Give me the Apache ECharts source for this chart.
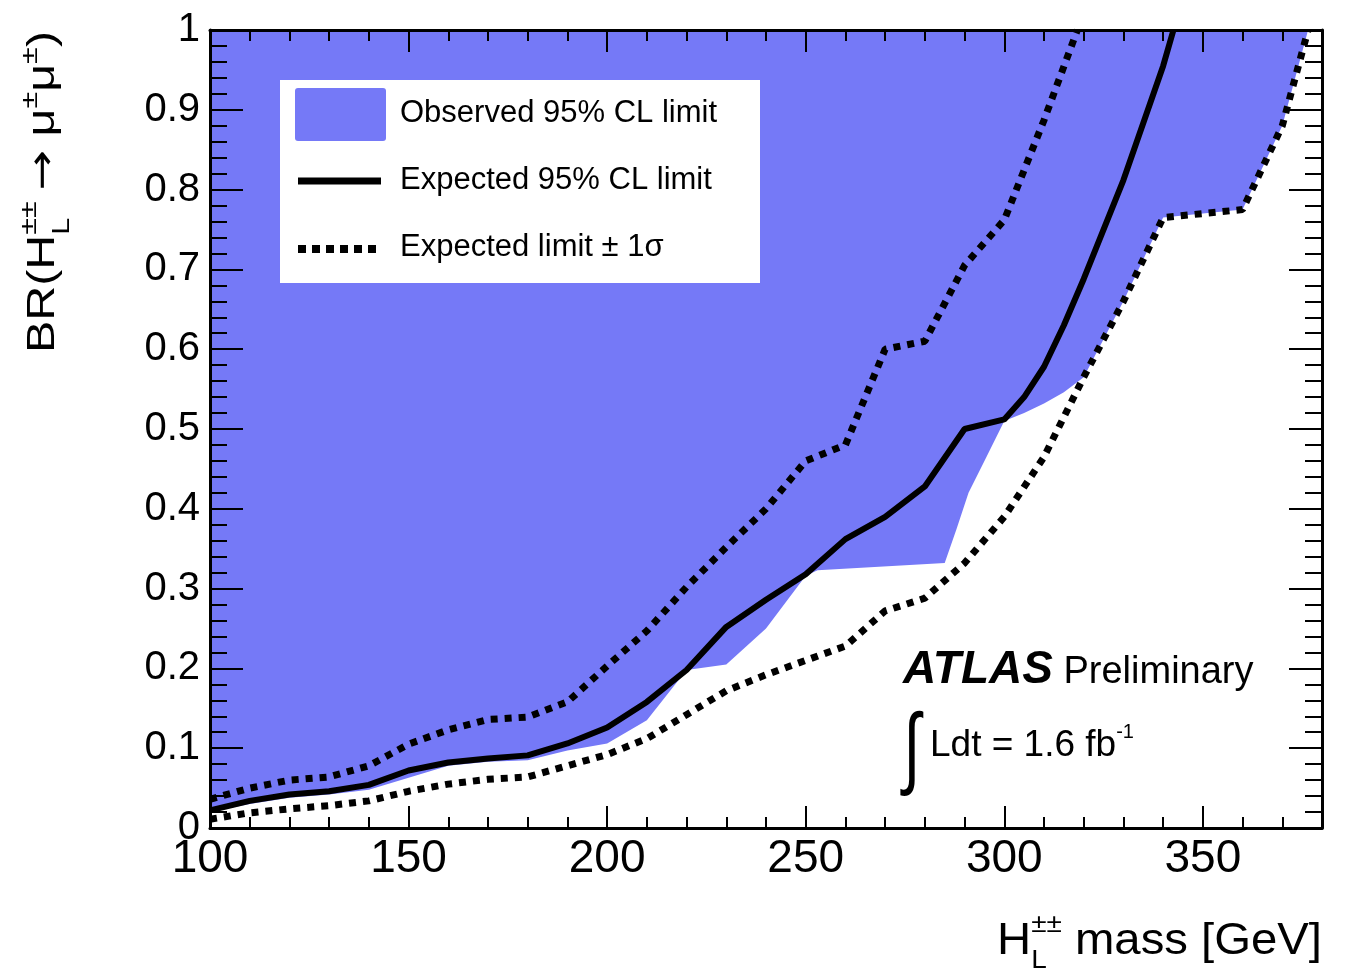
<!DOCTYPE html>
<html>
<head>
<meta charset="utf-8">
<title>BR(H++ -> mu mu) limit</title>
<script src="https://cdn.jsdelivr.net/npm/echarts@6/dist/echarts.min.js"></script>
<style>
  html, body { margin: 0; padding: 0; background: #fff; }
  #chart { width: 1345px; height: 968px; }
</style>
</head>
<body>
<div id="chart"></div>
<script>
// values (mass in GeV, branching ratio)
const obsMass = [100, 110, 120, 130, 140, 150, 160, 170, 180, 190, 200, 210, 220, 230, 240, 250, 253, 285, 288, 291, 295, 299, 300, 305, 310, 315, 320, 330, 340, 360, 370, 376.5];
const obsBR   = [0.020, 0.030, 0.038, 0.042, 0.048, 0.063, 0.078, 0.083, 0.085, 0.097, 0.106, 0.135, 0.198, 0.205, 0.250, 0.316, 0.323, 0.332, 0.375, 0.420, 0.460, 0.500, 0.510, 0.520, 0.532, 0.546, 0.565, 0.660, 0.765, 0.775, 0.880, 1.0];

const expMass = [100, 110, 120, 130, 140, 150, 160, 170, 180, 190, 200, 210, 220, 230, 240, 250, 260, 270, 280, 290, 300, 305, 310, 315, 320, 330, 340, 342.6];
const expBR   = [0.022, 0.034, 0.042, 0.046, 0.054, 0.072, 0.082, 0.087, 0.091, 0.106, 0.126, 0.158, 0.198, 0.252, 0.286, 0.318, 0.362, 0.390, 0.428, 0.500, 0.512, 0.540, 0.578, 0.630, 0.688, 0.812, 0.955, 1.0];

const upMass = [100, 110, 120, 130, 140, 150, 160, 170, 180, 190, 200, 210, 220, 230, 240, 250, 260, 270, 280, 290, 300, 310, 318.4];
const upBR   = [0.036, 0.050, 0.060, 0.064, 0.078, 0.105, 0.123, 0.136, 0.139, 0.158, 0.203, 0.247, 0.302, 0.352, 0.400, 0.460, 0.480, 0.600, 0.610, 0.705, 0.762, 0.887, 1.0];

const downMass = [100, 110, 120, 130, 140, 150, 160, 170, 180, 190, 200, 210, 220, 230, 240, 250, 260, 270, 280, 290, 300, 310, 320, 330, 340, 360, 370, 376.5];
const downBR   = [0.011, 0.019, 0.024, 0.028, 0.034, 0.046, 0.055, 0.061, 0.064, 0.078, 0.092, 0.112, 0.142, 0.172, 0.192, 0.210, 0.228, 0.272, 0.288, 0.332, 0.390, 0.465, 0.565, 0.660, 0.765, 0.775, 0.880, 1.0];

const BLUE = '#7579f7';
const FONT = '"Liberation Sans", Arial, Helvetica, sans-serif';
const SYM_FONT = '"DejaVu Sans", sans-serif';

const zip = (xs, ys) => xs.map((x, i) => [x, ys[i]]);

// text measuring, used to lay out titles with super/subscripts
const ctx2d = document.createElement('canvas').getContext('2d');
function measure(text, size, weight, style, family) {
  ctx2d.font = (style || 'normal') + ' ' + (weight || 'normal') + ' ' + size + 'px ' + (family || FONT);
  return ctx2d.measureText(text).width;
}
function textEl(text, x, dy, size, weight, style, family) {
  return {
    type: 'text', x: x, y: dy - 0.35 * size,
    style: {
      text: text, fill: '#000', fontSize: size, fontFamily: family || FONT,
      fontWeight: weight || 'normal', fontStyle: style || 'normal',
      align: 'left', verticalAlign: 'middle'
    }
  };
}
// pieces on one baseline (local y = 0); a "stack" puts sup and sub at the same x
function textRun(pieces) {
  let x = 0;
  const children = [];
  pieces.forEach(p => {
    if (p.stack) {
      let w = 0;
      p.stack.forEach(s => {
        children.push(textEl(s.text, x, s.dy, s.size));
        w = Math.max(w, measure(s.text, s.size));
      });
      x += w;
    } else {
      children.push(textEl(p.text, x, p.dy || 0, p.size, p.weight, p.style, p.family));
      x += measure(p.text, p.size, p.weight, p.style, p.family);
    }
  });
  return { children: children, width: x };
}

const yTitle = textRun([
  { text: 'BR(H', size: 38 },
  { stack: [{ text: '±±', size: 24, dy: -19 }, { text: 'L', size: 24, dy: 14 }] },
  { text: ' ', size: 30 },
  { text: '\u2192', size: 38, family: SYM_FONT },
  { text: ' \u03bc', size: 38 },
  { text: '±', size: 24, dy: -18 },
  { text: '\u03bc', size: 38 },
  { text: '±', size: 24, dy: -18 },
  { text: ')', size: 38 }
]);
const xTitle = textRun([
  { text: 'H', size: 44 },
  { stack: [{ text: '±±', size: 26, dy: -23 }, { text: 'L', size: 26, dy: 13 }] },
  { text: ' mass [GeV]', size: 44 }
]);
const atlas = textRun([
  { text: 'ATLAS', size: 46, weight: 'bold', style: 'italic' },
  { text: ' Preliminary', size: 38 }
]);
const lumi = textRun([
  { text: 'Ldt = 1.6 fb', size: 37 },
  { text: '-1', size: 20, dy: -20 }
]);

const chart = echarts.init(document.getElementById('chart'));

const xCommon = { type: 'value', min: 100, max: 380, splitLine: { show: false }, z: 10 };
const yCommon = { type: 'value', min: 0, max: 1, interval: 0.1, splitLine: { show: false }, z: 10 };
const frame = { show: true, onZero: false, lineStyle: { color: '#000', width: 3 } };
const tickLine = { color: '#000', width: 2 };

chart.setOption({
  animation: false,
  backgroundColor: '#fff',
  grid: { left: 210, right: 23, top: 30, bottom: 140, containLabel: false },
  xAxis: [
    Object.assign({}, xCommon, {
      position: 'bottom', interval: 50, axisLine: frame,
      axisTick: { inside: true, length: 22, lineStyle: tickLine },
      axisLabel: {
        color: '#000', fontSize: 46, fontFamily: FONT, margin: 8,
        formatter: v => (v % 50 === 0 ? String(v) : '')
      }
    }),
    Object.assign({}, xCommon, {
      position: 'bottom', interval: 10, axisLine: { show: false, onZero: false },
      axisTick: { inside: true, length: 11, lineStyle: tickLine }, axisLabel: { show: false }
    }),
    Object.assign({}, xCommon, {
      position: 'top', interval: 50, axisLine: frame,
      axisTick: { inside: true, length: 22, lineStyle: tickLine }, axisLabel: { show: false }
    }),
    Object.assign({}, xCommon, {
      position: 'top', interval: 10, axisLine: { show: false, onZero: false },
      axisTick: { inside: true, length: 11, lineStyle: tickLine }, axisLabel: { show: false }
    })
  ],
  yAxis: [
    Object.assign({}, yCommon, {
      position: 'left', axisLine: frame,
      axisTick: { inside: true, length: 33, lineStyle: tickLine },
      minorTick: { show: true, splitNumber: 5, length: 17, lineStyle: tickLine },
      axisLabel: { color: '#000', fontSize: 40, fontFamily: FONT, margin: 10 }
    }),
    Object.assign({}, yCommon, {
      position: 'right', axisLine: frame,
      axisTick: { inside: true, length: 33, lineStyle: tickLine },
      minorTick: { show: true, splitNumber: 5, length: 17, lineStyle: tickLine },
      axisLabel: { show: false }
    })
  ],
  series: [
    {
      name: 'Observed 95% CL limit', type: 'line', data: zip(obsMass, obsBR),
      symbol: 'none', lineStyle: { width: 0, opacity: 0 },
      areaStyle: { color: BLUE, opacity: 1, origin: 'end' }, z: 1
    },
    {
      name: 'Expected 95% CL limit', type: 'line', data: zip(expMass, expBR),
      symbol: 'none', lineStyle: { color: '#000', width: 6 }, z: 4
    },
    {
      name: 'Expected limit ± 1σ', type: 'line', data: zip(upMass, upBR),
      symbol: 'none', lineStyle: { color: '#000', width: 7, type: [7, 7], cap: 'butt' }, z: 3
    },
    {
      name: 'Expected limit ± 1σ (-1σ)', type: 'line', data: zip(downMass, downBR),
      symbol: 'none', lineStyle: { color: '#000', width: 7, type: [7, 7], cap: 'butt' }, z: 3
    }
  ],
  graphic: [
    // legend box
    { type: 'rect', shape: { x: 280, y: 80, width: 480, height: 203 }, style: { fill: '#fff' }, z: 20 },
    { type: 'rect', shape: { x: 295, y: 88, width: 91, height: 53, r: 3 }, style: { fill: BLUE }, z: 21 },
    { type: 'line', shape: { x1: 298, y1: 181, x2: 381, y2: 181 }, style: { stroke: '#000', lineWidth: 7 }, z: 21 },
    { type: 'line', shape: { x1: 298, y1: 249, x2: 382, y2: 249 }, style: { stroke: '#000', lineWidth: 8, lineDash: [8, 6] }, z: 21 },
    Object.assign(textEl('Observed 95% CL limit', 400, 124, 31), { z: 21 }),
    Object.assign(textEl('Expected 95% CL limit', 400, 191, 31), { z: 21 }),
    Object.assign(textEl('Expected limit ± 1σ', 400, 258, 31), { z: 21 }),
    // ATLAS label
    { type: 'group', x: 903, y: 686, children: atlas.children, z: 21 },
    { type: 'text', x: 912, y: 752, scaleY: 1.45, style: { text: '\u222b', fill: '#000', fontSize: 62, fontFamily: FONT, align: 'center', verticalAlign: 'middle' }, z: 21 },
    { type: 'group', x: 930, y: 759, children: lumi.children, z: 21 },
    // axis titles
    { type: 'group', x: 997, y: 957, scaleX: 325 / xTitle.width, children: xTitle.children, z: 21 },
    { type: 'group', x: 57, y: 353, rotation: Math.PI / 2, scaleX: 322 / yTitle.width, children: yTitle.children, z: 21 }
  ]
});
</script>
</body>
</html>
